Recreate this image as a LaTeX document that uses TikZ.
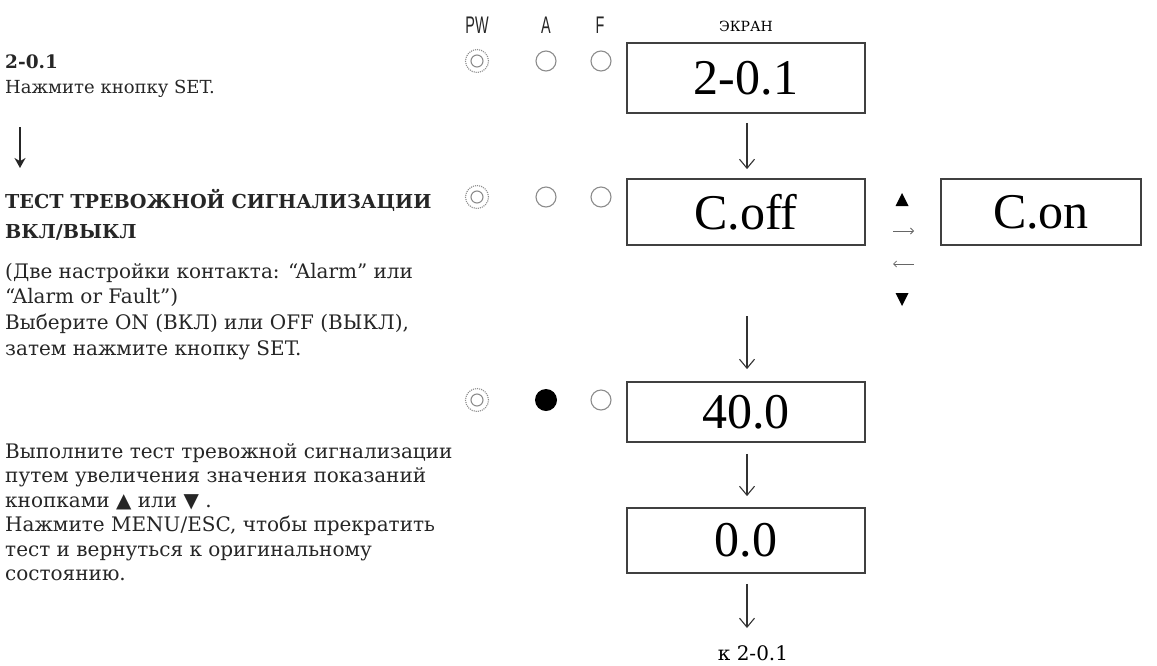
\documentclass[tikz,border=0pt]{standalone}
\usepackage{fontspec}
\setmainfont{DejaVu Serif}
\newfontfamily\digfont{Liberation Serif}
\newfontfamily\labfont{Liberation Sans}
\usetikzlibrary{arrows.meta}
\tikzset{
  disp/.style={draw=black!75, line width=1.8pt, minimum width=238pt, minimum height=66pt, inner sep=0pt, font=\digfont\fontsize{50}{50}\selectfont},
  ln/.style={anchor=base west, inner sep=0pt, font=\fontsize{20}{20}\selectfont, text=black!85},
  lns/.style={ln, font=\fontsize{18}{18}\selectfont},
  hd/.style={ln, font=\bfseries\fontsize{19.2}{19.2}\selectfont},
  flow/.style={draw=black!80, line width=1.1pt, -{Straight Barb[length=9pt,width=15pt,line width=1.1pt]}},
  small/.style={draw=black!60, line width=0.8pt, -{Straight Barb[length=3pt,width=6pt]}},
  ledo/.style={circle, draw=black!45, line width=1.1pt, minimum size=20pt, inner sep=0pt},
  hdr/.style={font=\labfont\fontsize{24}{24}\selectfont, text=black!85},
  tri/.style={fill=black, draw=none}
}
\begin{document}
\begin{tikzpicture}[x=1pt,y=-1pt]
\useasboundingbox (0,0) rectangle (1157,665);
% headers
\node[hdr] (hpw) at (477,25) {\scalebox{0.6}[1]{PW}};
\node[hdr] (ha) at (546,25) {\scalebox{0.6}[1]{A}};
\node[hdr] (hf) at (600,25) {\scalebox{0.6}[1]{F}};
\node[anchor=base, font=\fontsize{14}{14}\selectfont] (hscr) at (746,31) {ЭКРАН};
% displays
\node[disp, minimum height=70pt] (d1) at (746,78) {2-0.1};
\node[disp] (d2) at (746,212) {C.off};
\node[disp, minimum width=200pt] (d3) at (1041,212) {C.on};
\node[disp, minimum height=60pt] (d4) at (746,412) {40.0};
\node[disp, minimum height=65pt] (d5) at (746,540.5) {0.0};
\node[anchor=base, font=\fontsize{20}{20}\selectfont] (back) at (753,660) {к 2-0.1};
% connectors
\draw[flow] ([yshift=-9pt]d1.south -| 747,0) -- ([yshift=9pt]d2.north -| 747,0);
\draw[flow] (747,316) -- ([yshift=12pt]d4.north -| 747,0);
\draw[flow] ([yshift=-11pt]d4.south -| 747,0) -- ([yshift=11pt]d5.north -| 747,0);
\coordinate (backtop) at (747,628);
\draw[flow] ([yshift=-10pt]d5.south -| 747,0) -- (backtop);
% between C.off and C.on
\coordinate (r1) at (893,231); \coordinate (r2) at (914,231);
\draw[small] (r1) -- (r2);
\coordinate (l1) at (914,264); \coordinate (l2) at (893,264);
\draw[small] (l1) -- (l2);
\path[tri] (895.5,206) -- (908.5,206) -- (902,193) -- cycle;
\path[tri] (895.5,293) -- (908.5,293) -- (902,306) -- cycle;
% LEDs
\foreach \y/\n in {61/1,197/2,400/3}{
  \node[ledo, densely dotted, minimum size=23pt] (pw\n) at (477,\y) {};
  \node[ledo, minimum size=12pt] (pwi\n) at (477,\y) {};
  \node[ledo] (f\n) at (601,\y) {};
}
\node[ledo] (a1) at (546,61) {};
\node[ledo] (a2) at (546,197) {};
\node[circle, fill=black, minimum size=22pt, inner sep=0pt] (a3) at (546,400) {};
% left texts
\node[hd, font=\bfseries\fontsize{18.5}{18.5}\selectfont] (t1a) at (5,68) {2-0.1};
\node[lns] (t1b) at (5,93) {Нажмите кнопку SET.};
\coordinate (la) at (20,127); \coordinate (lb) at (20,168);
\draw[line width=2.4pt, black!85, -{Stealth[length=10pt,width=11pt]}] (la) -- (lb);
\node[hd] (t2a) at (5,208) {ТЕСТ ТРЕВОЖНОЙ СИГНАЛИЗАЦИИ};
\node[hd] (t2b) at (5,238) {ВКЛ/ВЫКЛ};
\node[ln] (t3a) at (5,278) {(Две настройки контакта: “Alarm” или};
\node[ln] (t3b) at (5,303.5) {“Alarm or Fault”)};
\node[ln] (t3c) at (5,329.5) {Выберите ON (ВКЛ) или OFF (ВЫКЛ),};
\node[ln] (t3d) at (5,355) {затем нажмите кнопку SET.};
\node[ln] (t4a) at (5,458) {Выполните тест тревожной сигнализации};
\node[ln] (t4b) at (5,482.5) {путем увеличения значения показаний};
\node[ln] (t4c) at (5,507) {кнопками ▲ или ▼ .};
\node[ln] (t4d) at (5,531.5) {Нажмите MENU/ESC, чтобы прекратить};
\node[ln] (t4e) at (5,556) {тест и вернуться к оригинальному};
\node[ln] (t4f) at (5,580.5) {состоянию.};
\end{tikzpicture}
\end{document}
